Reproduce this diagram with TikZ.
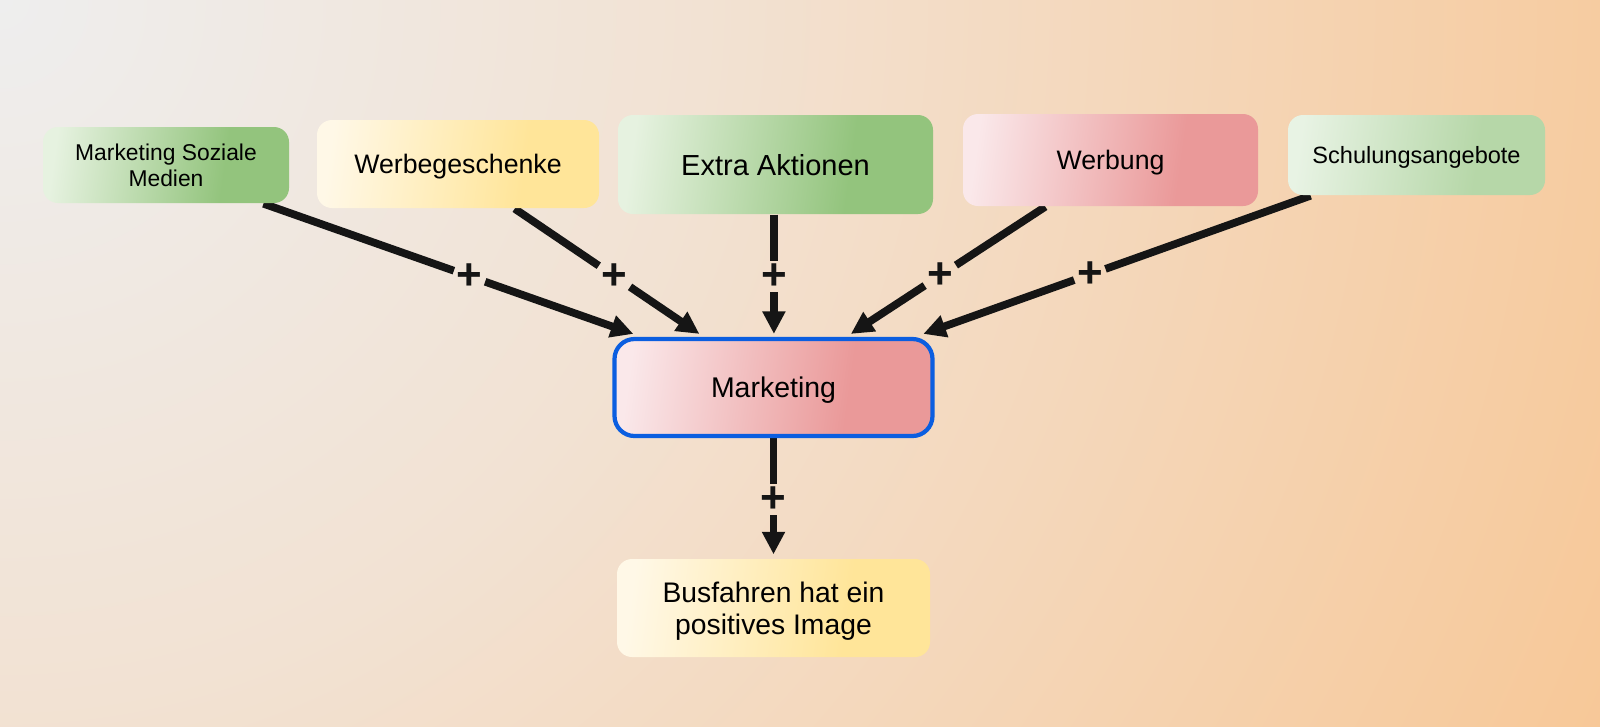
\documentclass[tikz,border=0pt]{standalone}
\usepackage{fontspec}
\setmainfont{Liberation Sans}
\usetikzlibrary{arrows.meta,calc}
\definecolor{bgA}{HTML}{EEEEEE}
\definecolor{bgM}{HTML}{F2E2D3}
\definecolor{bgB}{HTML}{F7C898}
\definecolor{gnA}{HTML}{E6F2E0}
\definecolor{gnB}{HTML}{93C47D}
\definecolor{ylA}{HTML}{FFF8E7}
\definecolor{ylB}{HTML}{FFE599}
\definecolor{pkA}{HTML}{FAE8EA}
\definecolor{pkB}{HTML}{EA9999}
\definecolor{lgA}{HTML}{E8F3E4}
\definecolor{lgB}{HTML}{B6D7A8}
\definecolor{blueB}{HTML}{0B5EE0}
\definecolor{arr}{HTML}{151515}
\pgfdeclarehorizontalshading{shgn}{100bp}{color(0bp)=(gnA); color(25bp)=(gnA); color(63bp)=(gnB); color(100bp)=(gnB)}
\pgfdeclarehorizontalshading{shyl}{100bp}{color(0bp)=(ylA); color(25bp)=(ylA); color(63bp)=(ylB); color(100bp)=(ylB)}
\pgfdeclarehorizontalshading{shpk}{100bp}{color(0bp)=(pkA); color(25bp)=(pkA); color(63bp)=(pkB); color(100bp)=(pkB)}
\pgfdeclarehorizontalshading{shlg}{100bp}{color(0bp)=(lgA); color(25bp)=(lgA); color(63bp)=(lgB); color(100bp)=(lgB)}
\pgfdeclareradialshading{bgsh}{\pgfpoint{0bp}{0bp}}{color(0bp)=(bgA); color(10bp)=(bgM); color(25bp)=(bgB); color(50bp)=(bgB)}
\pgfdeclarelayer{back}
\pgfdeclarelayer{edges}
\pgfsetlayers{back,edges,main}
\tikzset{
  box/.style={rounded corners=0.15cm, shade, shading angle=-8, inner sep=0pt, align=center, text=black, text depth=0pt},
  conn/.style={draw=arr, line width=2.2pt},
  arrowline/.style={conn, -{Triangle[length=6.4pt,width=6.2pt]}},
  plus/.style={font=\fontsize{12.5}{12.5}\selectfont\bfseries, inner sep=0.6pt, text=arr}
}
\begin{document}
\begin{tikzpicture}
\useasboundingbox (0,0) rectangle (16,7.26);
\begin{pgfonlayer}{back}
\begin{scope}
\clip (0,0) rectangle (16,7.26);
\shade[shading=bgsh] (-17.6,-10.34) rectangle (17.6,24.86);
\end{scope}
\end{pgfonlayer}

\node[box, shading=shgn, minimum width=2.46cm, minimum height=0.76cm, font=\fontsize{6.5}{7.5}\selectfont] (msm) at (1.66,5.61) {Marketing Soziale\\Medien};
\node[box, shading=shyl, minimum width=2.82cm, minimum height=0.88cm, font=\fontsize{7.6}{9}\selectfont] (wg) at (4.58,5.62) {Werbegeschenke};
\node[box, shading=shgn, minimum width=3.15cm, minimum height=0.99cm, font=\fontsize{8.25}{9.5}\selectfont] (ea) at (7.755,5.615) {Extra Aktionen};
\node[box, shading=shpk, minimum width=2.95cm, minimum height=0.92cm, font=\fontsize{7.6}{9}\selectfont] (wb) at (11.105,5.66) {Werbung};
\node[box, shading=shlg, minimum width=2.57cm, minimum height=0.80cm, font=\fontsize{6.7}{8}\selectfont] (sa) at (14.165,5.71) {Schulungsangebote};
\node[box, shading=shpk, draw=blueB, line width=1.2pt, rounded corners=0.2cm, minimum width=3.18cm, minimum height=0.97cm, font=\fontsize{8.1}{9.5}\selectfont] (mk) at (7.735,3.385) {Marketing};
\node[box, shading=shyl, minimum width=3.13cm, minimum height=0.98cm, font=\fontsize{8.05}{9.1}\selectfont] (bf) at (7.735,1.18) {Busfahren hat ein\\positives Image};

\coordinate (s1) at ($(msm.south west)!0.894!(msm.south east)$);
\coordinate (t1) at ($(mk.north west)!0.065!(mk.north east)+(0,0.03)$);
\coordinate (s2) at ($(wg.south west)!0.70!(wg.south east)$);
\coordinate (t2) at ($(mk.north west)!0.27!(mk.north east)+(0,0.03)$);
\coordinate (s3) at ($(ea.south west)!0.495!(ea.south east)$);
\coordinate (t3) at ($(s3|-mk.north)+(0,0.03)$);
\coordinate (s4) at ($(wb.south west)!0.28!(wb.south east)$);
\coordinate (t4) at ($(mk.north west)!0.74!(mk.north east)+(0,0.03)$);
\coordinate (s5) at ($(sa.south west)!0.09!(sa.south east)$);
\coordinate (t5) at ($(mk.north west)!0.965!(mk.north east)+(0,0.03)$);

\path (s1) -- node[plus,pos=0.557] (p1) {+} (t1);
\path (s2) -- node[plus,pos=0.54] (p2) {+} (t2);
\path (s3) -- node[plus,pos=0.52] (p3) {+} (t3);
\path (s4) -- node[plus,pos=0.54] (p4) {+} (t4);
\path (s5) -- node[plus,pos=0.57] (p5) {+} (t5);
\path (mk.south) -- node[plus,pos=0.51] (p6) {+} (bf.north);

\begin{pgfonlayer}{edges}
\draw[conn] (s1) -- (p1);
\draw[arrowline] (p1) -- (t1);
\draw[conn] (s2) -- (p2);
\draw[arrowline] (p2) -- (t2);
\draw[conn] (s3) -- (p3);
\draw[arrowline] (p3) -- (t3);
\draw[conn] (s4) -- (p4);
\draw[arrowline] (p4) -- (t4);
\draw[conn] (s5) -- (p5);
\draw[arrowline] (p5) -- (t5);
\draw[conn] (mk.south) -- (p6);
\draw[arrowline, shorten >=0.04cm] (p6) -- (bf.north);
\end{pgfonlayer}
\end{tikzpicture}
\end{document}
